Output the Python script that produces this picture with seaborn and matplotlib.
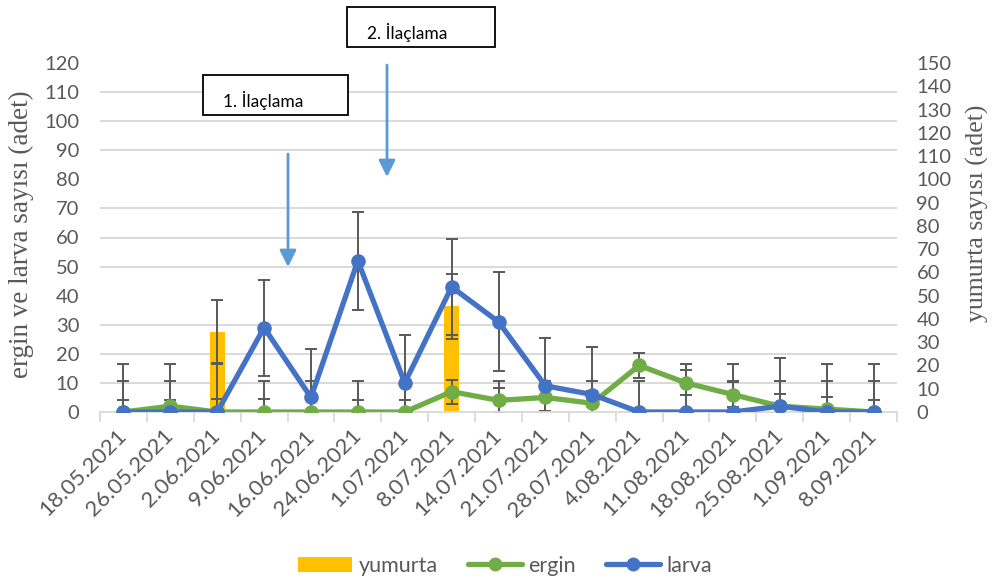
import numpy as np
import matplotlib
matplotlib.use("Agg")
import matplotlib.pyplot as plt
import matplotlib.ticker as ticker
from matplotlib.lines import Line2D
from matplotlib.patches import Patch, Rectangle
import seaborn as sns

# ─── STYLE ────────────────────────────────────────────────────────────────────
sns.set_theme(style="white")
plt.rcParams["font.family"] = ["Lato", "DejaVu Sans"]

GREY_TEXT = "#595959"
GRID = "#D9D9D9"
C_LARVA = "#4472C4"
C_ERGIN = "#70AD47"
C_YUMURTA = "#FFC000"
C_ARROW = "#5B9BD5"

# ─── DATA ─────────────────────────────────────────────────────────────────────
TARIHLER = ["18.05.2021", "26.05.2021", "2.06.2021", "9.06.2021", "16.06.2021",
            "24.06.2021", "1.07.2021", "8.07.2021", "14.07.2021", "21.07.2021",
            "28.07.2021", "4.08.2021", "11.08.2021", "18.08.2021", "25.08.2021",
            "1.09.2021", "8.09.2021"]

LARVA = [0, 0, 0, 29, 5, 52, 10, 43, 31, 9, 6, 0, 0, 0, 2, 0, 0]
LARVA_HATA = [16.5, 16.5, 16.5, 16.5, 16.5, 16.8, 16.5, 16.5, 17, 16.5, 16.5,
              0, 16.5, 16.5, 16.5, 16.5, 16.5]

ERGIN = [0, 2, 0, 0, 0, 0, 0, 7, 4, 5, 3, 16, 10, 6, 2, 1, 0]
ERGIN_HATA = [4.1, 2, 4.4, 4.4, 4.2, 4.1, 4.1, 4.1, 4.2, 4.5, 4.2, 4.2, 4.3,
              4.3, 4.2, 4.3, 4.1]

# yumurta is read on the right axis
YUMURTA = [0, 0, 34.5, 0, 0, 0, 0, 45.5, 0, 0, 0, 0, 0, 0, 0, 0, 0]
YUMURTA_HATA = [13.4, 13.4, 13.5, 13.4, 13.4, 13.4, 13.4, 14, 13.4, 13.4, 13.4,
                13.4, 0, 13.4, 13.4, 13.4, 13.4]

SOL_MAX, SOL_ADIM = 120, 10
SAG_MAX, SAG_ADIM = 150, 10


def main():
    W, H = 992, 583
    fig = plt.figure(figsize=(W / 100, H / 100), dpi=100)
    ax = fig.add_axes([100 / W, 1 - 412 / H, 797 / W, 349 / H])
    ax2 = ax.twinx()
    # lines on top of the egg bars
    ax.set_zorder(ax2.get_zorder() + 1)
    ax.patch.set_visible(False)

    pos = np.arange(len(TARIHLER))

    # ─── eggs (right axis) ────────────────────────────────────────────────
    sns.barplot(x=pos, y=YUMURTA, ax=ax2, color=C_YUMURTA, width=0.32,
                linewidth=0, saturation=1, zorder=2)
    ax2.errorbar(pos, YUMURTA, yerr=YUMURTA_HATA, fmt="none", ecolor=GREY_TEXT,
                 elinewidth=1.4, capsize=4, capthick=1.4, zorder=3)

    # ─── adults & larvae (left axis) ──────────────────────────────────────
    ax.errorbar(pos, ERGIN, yerr=ERGIN_HATA, fmt="none", ecolor=GREY_TEXT,
                elinewidth=1.4, capsize=4, capthick=1.4, zorder=2)
    ax.errorbar(pos, LARVA, yerr=LARVA_HATA, fmt="none", ecolor=GREY_TEXT,
                elinewidth=1.4, capsize=4, capthick=1.4, zorder=2)
    sns.lineplot(x=pos, y=ERGIN, ax=ax, color=C_ERGIN, linewidth=3.8,
                 marker="o", markersize=10.5, markeredgewidth=0, zorder=4)
    sns.lineplot(x=pos, y=LARVA, ax=ax, color=C_LARVA, linewidth=3.8,
                 marker="o", markersize=10.5, markeredgewidth=0, zorder=5)

    # ─── axes ─────────────────────────────────────────────────────────────
    ax.set_xlim(-0.5, len(TARIHLER) - 0.5)
    ax.set_ylim(0, SOL_MAX)
    ax2.set_ylim(0, SAG_MAX)
    ax.set_yticks(np.arange(0, SOL_MAX + 1, SOL_ADIM))
    ax2.set_yticks(np.arange(0, SAG_MAX + 1, SAG_ADIM))

    # gridlines follow the left scale but sit behind the bars
    ax2.yaxis.set_minor_locator(ticker.FixedLocator(
        np.arange(0, SOL_MAX + 1, SOL_ADIM) * SAG_MAX / SOL_MAX))
    ax2.grid(False)
    ax2.grid(True, which="minor", axis="y", color=GRID, linewidth=1.4)
    ax.grid(False)

    ax.set_xticks(pos)
    ax.set_xticklabels(TARIHLER, rotation=45, ha="right", va="center",
                       rotation_mode="anchor", fontsize=16, color=GREY_TEXT)
    ax.xaxis.set_minor_locator(ticker.FixedLocator(np.arange(-0.5, len(TARIHLER), 1)))
    ax.tick_params(axis="x", which="major", length=0, pad=15)
    ax.tick_params(axis="x", which="minor", length=7, width=1.3, color=GRID,
                   direction="out", bottom=True)
    ax2.tick_params(axis="x", which="both", length=0, labelbottom=False)

    ax.tick_params(axis="y", length=0, pad=15, labelsize=14.5, labelcolor=GREY_TEXT)
    ax2.tick_params(axis="y", which="both", length=0, pad=14, labelsize=14.5,
                    labelcolor=GREY_TEXT)

    for a in (ax, ax2):
        for side in ("top", "left", "right", "bottom"):
            a.spines[side].set_visible(False)
    ax.spines["bottom"].set_visible(True)
    ax.spines["bottom"].set_color(GRID)
    ax.spines["bottom"].set_linewidth(1.3)

    ax.set_ylabel("ergin ve larva sayısı (adet)", family="Liberation Serif",
                  fontsize=19.5, color=GREY_TEXT)
    ax.yaxis.set_label_coords(-0.083, 0.51)
    ax2.set_ylabel("yumurta sayısı (adet)", family="Liberation Serif",
                   fontsize=18.5, color=GREY_TEXT, rotation=90)
    ax2.yaxis.set_label_coords(1.086, 0.57)
    ax.set_xlabel("")
    ax2.set_xlabel("")

    # ─── spraying notes ───────────────────────────────────────────────────
    for (x0, y0, x1, y1), (tx, ty), txt in [
        ((203, 75, 348, 115), (223, 100), "1. İlaçlama"),
        ((347, 7, 495, 47), (367, 33), "2. İlaçlama"),
    ]:
        fig.add_artist(Rectangle((x0 / W, 1 - y1 / H), (x1 - x0) / W, (y1 - y0) / H,
                                 transform=fig.transFigure, facecolor="white",
                                 edgecolor="black", linewidth=1.3))
        fig.text(tx / W, 1 - ty / H, txt, fontsize=12.5, color="black",
                 ha="left", va="center")

    for x, ya, yb in [(288, 154, 267), (387, 65, 177)]:
        ax.annotate("", xy=(x / W, 1 - yb / H), xytext=(x / W, 1 - ya / H),
                    xycoords="figure fraction", textcoords="figure fraction",
                    arrowprops=dict(arrowstyle="-|>,head_length=0.5,head_width=0.25",
                                    mutation_scale=20, color=C_ARROW, lw=2,
                                    shrinkA=0, shrinkB=0))

    # ─── legend ───────────────────────────────────────────────────────────
    handles = [
        Patch(facecolor=C_YUMURTA, edgecolor="none"),
        Line2D([], [], color=C_ERGIN, lw=3.8, marker="o", ms=10, mew=0),
        Line2D([], [], color=C_LARVA, lw=3.8, marker="o", ms=10, mew=0),
    ]
    fig.legend(handles, ["yumurta", "ergin", "larva"], loc="center",
               bbox_to_anchor=(505 / W, 1 - 566 / H), ncol=3, frameon=False,
               fontsize=15.5, labelcolor=GREY_TEXT, handlelength=2.5,
               handletextpad=0.3, columnspacing=1.4)

    fig.savefig("out.png", dpi=100, facecolor="white")


if __name__ == "__main__":
    main()
